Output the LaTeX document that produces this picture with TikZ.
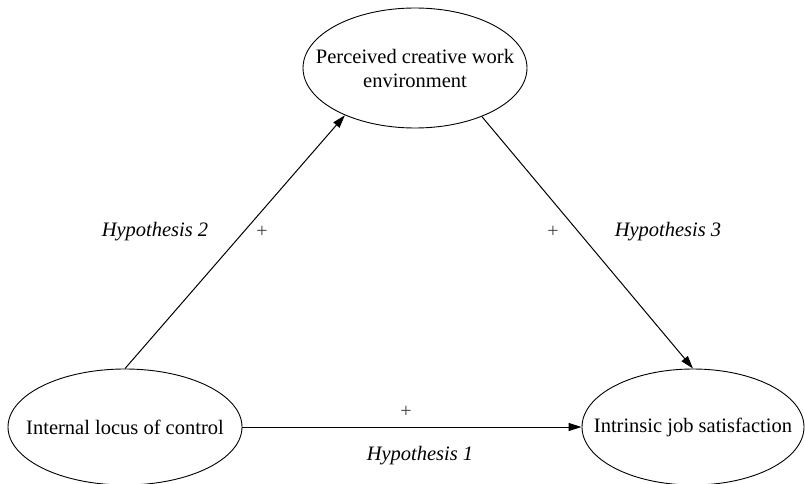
\documentclass[tikz,border=0pt]{standalone}
\usepackage{fontspec}
\setmainfont{Liberation Serif}
\usepackage{tikz}
\usetikzlibrary{arrows.meta, shapes.geometric}

\begin{document}
\begin{tikzpicture}[x=1pt, y=-1pt,
    construct/.style={draw, ellipse, line width=0.9pt, inner xsep=-25pt, align=center,
        font=\fontsize{20.5}{24}\selectfont},
    hpath/.style={-{Triangle[length=13pt, width=8pt]}, line width=1pt},
    hyp/.style={font=\fontsize{20.5}{24}\selectfont\itshape},
    sign/.style={font=\fontsize{20}{24}\selectfont, text=black!75}]
    \useasboundingbox (0,0) rectangle (805,484);

    % Constructs
    \node[construct, minimum width=224pt, minimum height=120pt] (pcwe) at (415,68) {Perceived creative work\\environment};
    \node[construct, minimum width=234pt, minimum height=116pt] (ilc) at (125,427) {Internal locus of control};
    \node[construct, minimum width=222pt, minimum height=116pt] (ijs) at (693,427) {Intrinsic job satisfaction};

    % Hypothesised paths
    \draw[hpath] (ilc.north) -- (pcwe.214);
    \draw[hpath] (pcwe.-36) -- (ijs.north);
    \draw[hpath] (ilc.east) -- (ijs.west);

    % Labels
    \node[hyp] (h2) at (155,232) {Hypothesis 2};
    \node[sign] (s2) at (262,232) {+};
    \node[sign] (s3) at (553,232) {+};
    \node[hyp] (h3) at (668,232) {Hypothesis 3};
    \node[sign] (s1) at (406,412) {+};
    \node[hyp] (h1) at (420,456) {Hypothesis 1};
\end{tikzpicture}
\end{document}
